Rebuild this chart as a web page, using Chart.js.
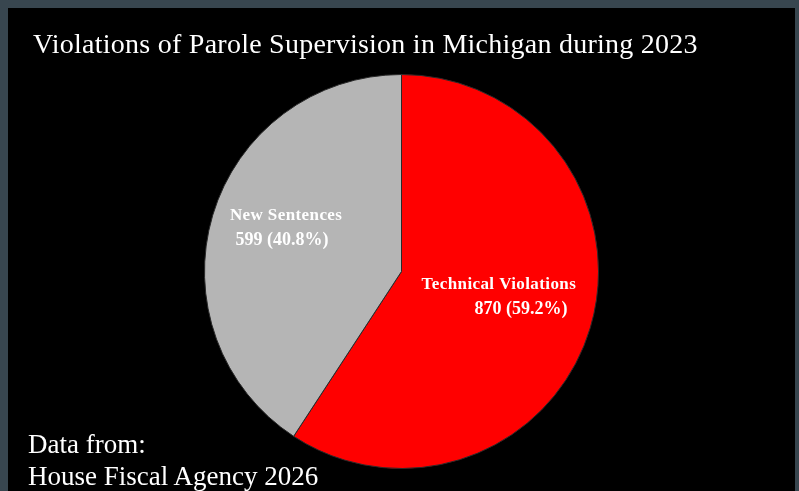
<!DOCTYPE html>
<html>
<head>
<meta charset="utf-8">
<script src="https://cdn.jsdelivr.net/npm/chart.js@4.4.1/dist/chart.umd.min.js"></script>
<style>
    html, body { margin: 0; padding: 0; }
    body {
        width: 799px;
        height: 491px;
        background: #38464f;
        position: relative;
        overflow: hidden;
        font-family: "Liberation Serif", "Times New Roman", serif;
    }
    .panel {
        position: absolute;
        left: 8px;
        top: 8px;
        width: 787px;
        height: 483px;
        background: #000;
    }
    #paroleChart { position: absolute; left: 8px; top: 8px; }
    .title {
        position: absolute;
        left: 33px;
        top: 30px;
        color: #fff;
        font-size: 28px;
        line-height: 27px;
        letter-spacing: 0.25px;
        white-space: nowrap;
    }
    .source {
        position: absolute;
        left: 28px;
        top: 428px;
        color: #fff;
        font-size: 27px;
        line-height: 32px;
        white-space: nowrap;
    }
</style>
</head>
<body>
<div class="panel"></div>
<canvas id="paroleChart" width="787" height="483"></canvas>
<div class="title">Violations of Parole Supervision in Michigan during 2023</div>
<div class="source">Data from:<br>House Fiscal Agency 2026</div>

<script>
// Parole violations by type, 2023
const categories = ['Technical Violations', 'New Sentences'];
const counts = [870, 599];
const percentLabels = ['59.2%', '40.8%'];
const sliceColors = ['#ff0000', '#b5b5b5'];

// Where each two-line label sits relative to its slice centroid (px)
const labelOffsets = [
    { name: [3, -15], value: [25, 10] },
    { name: [-21, -28], value: [-25, -3] }
];

// Draws "Name" and "count (pct)" on top of each slice
const sliceLabels = {
    id: 'sliceLabels',
    afterDatasetsDraw(chart) {
        const ctx = chart.ctx;
        const arcs = chart.getDatasetMeta(0).data;
        ctx.save();
        ctx.fillStyle = '#ffffff';
        ctx.textAlign = 'center';
        ctx.textBaseline = 'middle';
        arcs.forEach((arc, i) => {
            const pos = arc.tooltipPosition();
            const off = labelOffsets[i];
            ctx.font = 'bold 17px "Liberation Serif", serif';
            ctx.letterSpacing = '0.4px';
            ctx.fillText(categories[i], pos.x + off.name[0], pos.y + off.name[1]);
            ctx.font = 'bold 18px "Liberation Serif", serif';
            ctx.letterSpacing = '0px';
            ctx.fillText(counts[i] + ' (' + percentLabels[i] + ')', pos.x + off.value[0], pos.y + off.value[1]);
        });
        ctx.restore();
    }
};

new Chart(document.getElementById('paroleChart'), {
    type: 'pie',
    data: {
        labels: categories,
        datasets: [{
            data: counts,
            backgroundColor: sliceColors,
            borderColor: '#2a2a2a',
            borderWidth: 1
        }]
    },
    options: {
        responsive: false,
        animation: false,
        layout: { padding: { top: 66, bottom: 22, left: 196, right: 196 } },
        plugins: {
            legend: { display: false },
            tooltip: { enabled: false }
        }
    },
    plugins: [sliceLabels]
});
</script>
</body>
</html>
